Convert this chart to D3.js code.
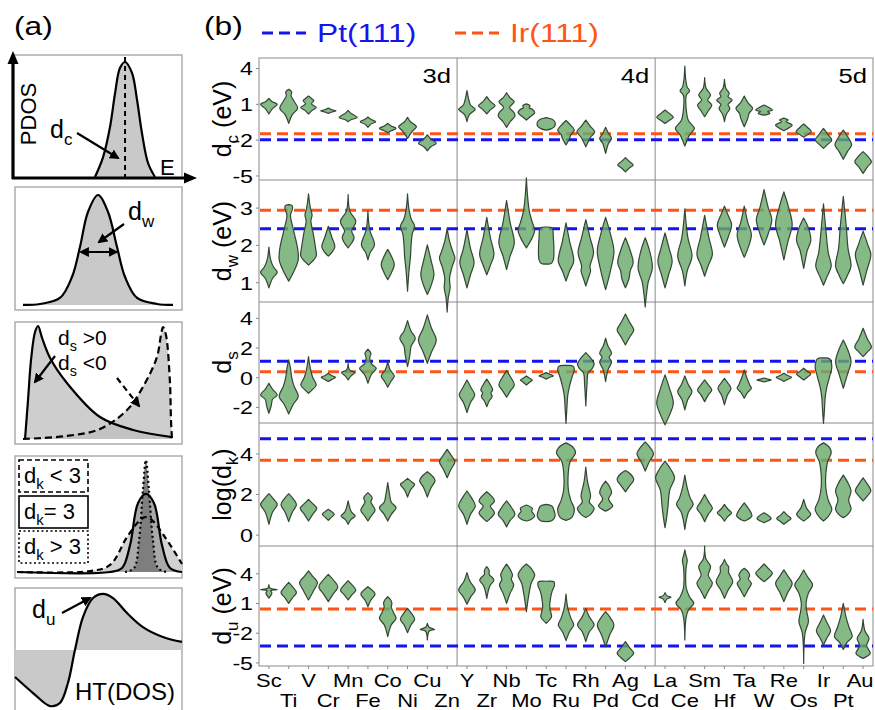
<!DOCTYPE html>
<html>
<head>
<meta charset="utf-8">
<script src="https://cdn.jsdelivr.net/npm/d3@7"></script>
<style>
  body { margin: 0; background: #fff; }
  svg text { font-family: "Liberation Sans", Arial, sans-serif; fill: #000; }
</style>
</head>
<body>
<div id="chart"></div>
<script>
'use strict';

// ── Categories ────────────────────────────────────────
var elements = ['Sc','Ti','V','Cr','Mn','Fe','Co','Ni','Cu','Zn',
                'Y','Zr','Nb','Mo','Tc','Ru','Rh','Pd','Ag','Cd',
                'La','Ce','Sm','Hf','Ta','W','Re','Os','Ir','Pt','Au'];
var blockNames = ['3d', '4d', '5d'];
var blockFirst = ['Sc', 'Y', 'La'];

// ── Rows: descriptor name, y domain, ticks, reference surfaces ──
var rowTitles = [
  [['d', 0], ['c', 1], [' (eV)', 0]],
  [['d', 0], ['w', 1], [' (eV)', 0]],
  [['d', 0], ['s', 1]],
  [['log(d', 0], ['k', 1], [')', 0]],
  [['d', 0], ['u', 1], [' (eV)', 0]]
];
var rowDomains = [[-5.38, 4.84], [0.47, 3.74], [-3.08, 5.07], [-0.56, 5.5], [-5.36, 6.76]];
var rowTicks = [[4, 1, -2, -5], [3, 2, 1], [4, 2, 0, -2], [4, 2, 0], [4, 1, -2, -5]];
var ptLevels = [-2.0, 2.43, 1.08, 4.73, -3.34];   // Pt(111)
var irLevels = [-1.5, 2.93, 0.38, 3.67, 0.4];     // Ir(111)

// ── Violin profiles: [value, half-width density] from top to bottom ──
var dcViolins = {
  Sc: [[1.46,0],[1.2,2.5],[0.96,7],[0.6,3],[0.15,0]],
  Ti: [[2.21,0],[2.0,2.5],[1.7,2],[1.3,4],[0.62,7.5],[0.1,3],[-0.64,0]],
  V:  [[1.65,0],[1.4,3],[1.26,4.5],[1.0,2.5],[0.7,6.5],[0.45,3],[0.15,0]],
  Cr: [[0.65,0],[0.5,3],[0.42,6.5],[0.3,2.5],[0.2,0]],
  Mn: [[0.45,0],[0.2,2.5],[-0.13,7.5],[-0.35,2],[-0.5,0]],
  Fe: [[-0.1,0],[-0.3,2.5],[-0.5,6.5],[-0.7,2.5],[-0.97,0]],
  Co: [[-0.64,0],[-0.85,3],[-1.06,7],[-1.25,3],[-1.42,0]],
  Ni: [[-0.13,0],[-0.5,2.5],[-0.75,6],[-0.92,7.5],[-1.3,4],[-1.9,0]],
  Cu: [[-1.6,0],[-1.95,3],[-2.3,7.5],[-2.6,3],[-2.93,0]],
  Y:  [[2.1,0],[1.5,1.2],[0.9,3],[0.54,7],[0.1,2],[-0.5,0]],
  Zr: [[1.6,0],[1.2,3],[0.84,7],[0.5,3],[0.15,0]],
  Nb: [[1.93,0],[1.5,3],[1.18,6.5],[0.7,2.5],[0.3,6],[-0.02,7],[-0.5,3],[-0.97,0]],
  Mo: [[1.0,0],[0.85,3],[0.65,2.5],[0.55,5],[0.26,7],[-0.1,3],[-0.36,0]],
  Tc: [[-0.15,0],[-0.3,5],[-0.55,7.5],[-0.9,7],[-1.1,4],[-1.2,0]],
  Ru: [[-0.4,0],[-0.8,4],[-1.2,7],[-1.6,4],[-1.9,3],[-2.45,0]],
  Rh: [[-0.36,0],[-0.9,4],[-1.34,7.5],[-1.8,4],[-2.6,0]],
  Pd: [[-0.97,0],[-1.5,2.5],[-1.9,5],[-2.3,2.5],[-3.15,0]],
  Ag: [[-3.5,0],[-3.8,3],[-4.13,6.5],[-4.4,3],[-4.7,0]],
  La: [[0.48,0],[0.2,3.5],[-0.13,7],[-0.4,3.5],[-0.64,0]],
  Ce: [[4.17,0],[3.0,0.8],[2.4,2],[2.1,4],[1.7,1.2],[0.5,1.2],[-0.4,3],[-1.06,8],[-1.6,4],[-2.54,0]],
  Sm: [[3.2,0],[2.3,1.2],[1.74,5],[1.32,2.5],[0.9,6],[0.4,3],[-0.08,0]],
  Hf: [[3.05,0],[2.3,1.2],[1.88,4],[1.6,3],[1.32,6.5],[0.95,3],[0.62,4.5],[0.1,1.5],[-0.5,0]],
  Ta: [[1.65,0],[1.1,3],[0.62,7],[0.2,4],[-0.2,3],[-0.92,0]],
  W:  [[0.9,0],[0.75,3],[0.48,7],[0.35,3],[0.2,5],[0.05,0]],
  Re: [[-0.2,0],[-0.36,3.5],[-0.5,2],[-0.78,7],[-1.25,0]],
  Os: [[-0.69,0],[-1.0,3.5],[-1.34,6.5],[-1.6,3],[-1.8,0]],
  Ir: [[-1.06,0],[-1.6,4],[-2.03,7],[-2.4,3.5],[-2.73,0]],
  Pt: [[-1.2,0],[-1.8,4],[-2.45,7],[-3.0,3.5],[-3.65,0]],
  Au: [[-3.0,0],[-3.4,4],[-3.85,7],[-4.3,3.5],[-4.83,0]]
};
var dwViolins = {
  Sc: [[1.94,0],[1.6,1.5],[1.4,4],[1.27,7],[1.1,3],[0.85,0]],
  Ti: [[3.08,0],[3.05,3],[2.95,3],[2.8,1.5],[2.4,4],[1.9,7.5],[1.6,8],[1.3,4.5],[1.03,0]],
  V:  [[3.37,0],[3.0,1.5],[2.8,3],[2.65,2],[2.3,4],[1.9,6],[1.7,6.5],[1.55,3],[1.46,0]],
  Cr: [[2.5,0],[2.2,3],[1.95,5.5],[1.8,3],[1.7,0]],
  Mn: [[3.35,0],[2.9,1.5],[2.63,6.5],[2.37,3],[2.19,5],[1.92,0]],
  Fe: [[2.9,0],[2.4,1.5],[2.0,5.5],[1.8,2],[1.6,0]],
  Co: [[1.88,0],[1.7,3],[1.47,5.5],[1.25,3],[1.07,0]],
  Ni: [[3.37,0],[3.0,1],[2.7,3],[2.5,6],[2.3,4],[2.0,3],[1.7,2.5],[1.3,1.2],[0.76,0]],
  Cu: [[2.0,0],[1.6,3],[1.2,5.5],[0.9,3],[0.67,0]],
  Zn: [[2.45,0],[2.1,2],[1.8,5],[1.65,6.5],[1.4,4],[1.1,2],[0.85,2.5],[0.6,1],[0.2,0]],
  Y:  [[2.41,0],[1.9,3],[1.52,6],[1.2,3],[0.85,0]],
  Zr: [[2.74,0],[2.2,3],[1.74,6],[1.45,3],[1.2,0]],
  Nb: [[3.19,0],[2.6,3],[2.05,6.5],[1.7,3],[1.34,0]],
  Mo: [[3.8,0],[3.3,1],[2.9,2.5],[2.6,5],[2.4,7],[2.2,5],[1.92,0]],
  Tc: [[2.48,0],[2.45,5],[2.2,6],[1.9,6.5],[1.6,6],[1.5,4],[1.49,0]],
  Ru: [[2.59,0],[2.1,3],[1.56,6.5],[1.3,3],[1.03,0]],
  Rh: [[2.68,0],[2.2,3.5],[1.79,6.5],[1.43,3.5],[1.3,4],[1.1,2],[0.9,0]],
  Pd: [[2.74,0],[2.3,4],[1.83,7],[1.3,4],[0.8,0]],
  Ag: [[2.19,0],[1.85,4],[1.52,6.5],[1.3,4],[1.1,3],[0.85,0]],
  Cd: [[2.19,0],[1.8,4],[1.38,6],[1.0,2.5],[0.71,1.2],[0.34,0]],
  La: [[2.32,0],[1.9,3.5],[1.56,6],[1.2,3],[0.85,0]],
  Ce: [[2.97,0],[2.2,2.5],[1.7,6],[1.3,2],[0.9,0]],
  Sm: [[2.79,0],[2.2,3.5],[1.74,6.5],[1.45,3],[1.16,0]],
  Hf: [[3.04,0],[2.8,3],[2.54,6],[2.2,3],[1.94,0]],
  Ta: [[3.04,0],[2.6,3],[2.28,6],[1.9,3],[1.67,0]],
  W:  [[3.48,0],[3.0,3.5],[2.68,6.5],[2.3,3.5],[2.0,0]],
  Re: [[3.42,0],[3.0,4],[2.54,7],[2.1,3.5],[1.6,0]],
  Os: [[2.72,0],[2.45,4],[2.12,6],[1.85,3],[1.7,2],[1.37,0]],
  Ir: [[3.1,0],[2.4,2],[1.8,4],[1.43,6.5],[1.15,3],[0.92,0]],
  Pt: [[3.3,0],[2.5,2.5],[1.9,4],[1.43,6.5],[1.15,3],[0.96,0]],
  Au: [[2.37,0],[2.0,4],[1.74,6.5],[1.3,3],[0.92,0]]
};
var dsViolins = {
  Sc: [[-0.4,0],[-0.8,3],[-1.19,7],[-1.5,3],[-1.9,2],[-2.42,0]],
  Ti: [[1.17,0],[0.6,1.5],[0,2.5],[-0.6,4.5],[-1.3,8],[-1.8,4],[-2.47,0]],
  V:  [[1.39,0],[0.6,1.5],[0,3.5],[-0.52,6.5],[-0.85,3],[-1.08,0]],
  Cr: [[0.27,0],[0.1,3],[0,6],[-0.15,3],[-0.29,0]],
  Mn: [[0.94,0],[0.5,1.2],[0.31,5.5],[0.1,2.5],[-0.18,0]],
  Fe: [[1.89,0],[1.62,2.5],[1.3,1.5],[0.9,3],[0.61,7],[0.2,3],[-0.4,0]],
  Co: [[1.05,0],[0.5,2],[0.09,5.5],[-0.3,2.5],[-0.67,0]],
  Ni: [[3.82,0],[3.1,3],[2.63,6.5],[2.1,3],[1.5,2],[0.72,0]],
  Cu: [[4.2,0],[3.3,3.5],[2.51,7.5],[1.7,3.5],[0.94,0]],
  Y:  [[-0.18,0],[-0.7,3.5],[-1.19,6.5],[-1.7,3],[-2.38,0]],
  Zr: [[-0.13,0],[-0.5,3],[-0.85,5],[-1.05,3.5],[-1.3,4.5],[-1.6,2],[-1.98,0]],
  Nb: [[0.45,0],[0,3.5],[-0.52,6.5],[-0.95,3],[-1.35,0]],
  Mo: [[0.09,0],[-0.05,2.5],[-0.18,5],[-0.35,2.5],[-0.52,0]],
  Tc: [[0.31,0],[0.2,3],[0.09,6],[0,3],[-0.13,0]],
  Ru: [[0.8,0],[0.75,6],[0.5,7],[0,5],[-0.6,3],[-1.2,1.5],[-2,0.8],[-3.1,0]],
  Rh: [[1.66,0],[1.3,4],[0.9,7],[0.6,5.5],[0.3,2],[-0.5,1],[-1.93,0]],
  Pd: [[2.63,0],[2.1,2],[1.62,5],[1.35,3],[1.05,5],[0.5,2],[-0.29,0]],
  Ag: [[4.26,0],[3.7,3.5],[3.19,7],[2.7,3.5],[2.18,0]],
  La: [[0.16,0],[-0.8,4],[-1.75,7],[-2.5,4],[-3.2,0]],
  Ce: [[0.09,0],[-0.5,3],[-0.97,6],[-1.5,2.5],[-2.2,0]],
  Sm: [[-0.18,0],[-0.5,3],[-0.85,6],[-1.2,3],[-1.64,0]],
  Hf: [[-0.07,0],[-0.4,3],[-0.74,5.5],[-1.2,2.5],[-1.86,0]],
  Ta: [[0.49,0],[0,2],[-0.5,4.5],[-0.74,6],[-1.0,3],[-1.41,0]],
  W:  [[-0.05,0],[-0.12,3],[-0.18,6],[-0.25,3],[-0.32,0]],
  Re: [[0.27,0],[0.12,3],[0,6.5],[-0.15,3],[-0.29,0]],
  Os: [[0.61,0],[0.4,3],[0.22,6],[0,3],[-0.18,0]],
  Ir: [[1.3,0],[1.25,5],[0.72,7],[0,5],[-0.6,3],[-1.3,1.5],[-2.2,0.8],[-3.1,0]],
  Pt: [[2.51,0],[1.8,4],[1.05,6.5],[0.2,3.5],[-0.74,0]],
  Au: [[3.3,0],[2.6,3.5],[2.02,7],[1.7,3.5],[1.39,0]]
};
var dkViolins = {
  Sc: [[2.02,0],[1.75,4],[1.49,7],[1.1,3],[0.51,0]],
  Ti: [[2.02,0],[1.75,4],[1.49,6.5],[1.1,3],[0.64,0]],
  V:  [[1.74,0],[1.5,4],[1.3,7],[1.0,3.5],[0.67,0]],
  Cr: [[1.25,0],[1.12,3],[1.0,5],[0.85,2.5],[0.7,0]],
  Mn: [[1.66,0],[1.3,1.5],[1.1,3],[0.92,6],[0.75,2.5],[0.51,0]],
  Fe: [[2.07,0],[1.82,3.5],[1.6,2.5],[1.2,6],[0.9,2.5],[0.67,0]],
  Co: [[2.56,0],[2.0,1.5],[1.6,3],[1.33,7],[1.0,3],[0.67,0]],
  Ni: [[2.77,0],[2.6,3.5],[2.48,6],[2.2,2.5],[1.85,0]],
  Cu: [[3.1,0],[2.9,4],[2.67,6.5],[2.3,3],[1.85,0]],
  Zn: [[4.2,0],[3.9,3.5],[3.59,6.5],[3.2,3],[2.8,0]],
  Y:  [[2.15,0],[1.8,4],[1.41,7],[1.0,3],[0.51,0]],
  Zr: [[2.11,0],[1.66,6.5],[1.4,3],[1.08,6.5],[0.8,3],[0.64,0]],
  Nb: [[1.66,0],[1.35,4],[1.0,7],[0.7,3],[0.38,0]],
  Mo: [[1.46,0],[1.3,5],[1.15,4.5],[0.92,7],[0.75,4],[0.67,0]],
  Tc: [[1.49,0],[1.4,5],[1.2,6.5],[0.92,7.5],[0.7,5],[0.64,0]],
  Ru: [[4.52,0],[4.3,6],[4.03,8],[3.6,3.5],[3.1,2],[2.2,2],[1.7,4],[1.25,7],[0.85,5],[0.7,0]],
  Rh: [[3.33,0],[2.6,1.5],[1.9,4],[1.6,3],[1.3,7],[1.0,4],[0.84,0]],
  Pd: [[2.64,0],[2.4,3],[2.07,5],[1.75,2.5],[1.41,6],[1.25,3],[1.16,0]],
  Ag: [[3.16,0],[3.0,4],[2.72,7],[2.4,3.5],[2.11,0]],
  Cd: [[4.57,0],[4.3,4],[3.98,7],[3.6,3.5],[3.13,0]],
  La: [[3.62,0],[3.2,5],[2.8,8],[2.2,4],[1.4,2.5],[0.9,1.5],[0.34,0]],
  Ce: [[2.93,0],[2.3,2],[1.8,4.5],[1.49,7],[1.1,3],[0.26,0]],
  Sm: [[1.98,0],[1.6,3.5],[1.3,6.5],[1.0,3],[0.64,0]],
  Hf: [[1.49,0],[1.25,3],[1.08,6],[0.9,3],[0.67,0]],
  Ta: [[1.57,0],[1.25,4],[0.92,6.5],[0.75,3],[0.67,0]],
  W:  [[1.08,0],[0.95,3.5],[0.8,6],[0.68,3.5],[0.59,0]],
  Re: [[1.13,0],[0.95,3],[0.8,6],[0.65,3],[0.51,0]],
  Os: [[1.74,0],[1.3,2.5],[1.0,6],[0.8,3],[0.67,0]],
  Ir: [[4.52,0],[4.3,5],[4.03,6.5],[3.6,3.5],[3.0,2],[2.3,2],[1.7,4],[1.25,7],[0.9,4],[0.67,0]],
  Pt: [[2.93,0],[2.6,3.5],[2.15,6.5],[1.7,4.5],[1.25,6.5],[0.95,3],[0.84,0]],
  Au: [[2.8,0],[2.5,3.5],[2.15,6.5],[1.9,3.5],[1.66,0]]
};
var duViolins = {
  Sc: [[2.85,0],[2.5,1],[2.35,7],[2.25,1.5],[2.0,2.5],[1.5,0]],
  Ti: [[3.09,0],[2.6,3.5],[2.05,6.5],[1.5,3],[0.97,0]],
  V:  [[4.24,0],[3.7,3.5],[3.09,7.5],[2.2,4],[1.31,0]],
  Cr: [[3.9,0],[3.3,4.5],[2.65,8],[1.9,4],[1.14,0]],
  Mn: [[3.26,0],[2.8,3.5],[2.32,6.5],[1.8,3],[1.31,0]],
  Fe: [[2.65,0],[2.3,3.5],[1.91,6],[1.3,2.5],[0.63,0]],
  Co: [[1.64,0],[1.3,2.5],[0.97,3.5],[0.6,3],[0,5],[-0.55,7],[-1.2,3],[-2.4,0]],
  Ni: [[0.46,0],[0,3],[-0.65,6],[-1.2,3],[-2.0,0]],
  Cu: [[-1.05,0],[-1.45,1.5],[-1.66,6],[-1.85,1.5],[-2.73,0]],
  Y:  [[4.07,0],[3.2,2.5],[2.32,7],[1.6,3],[0.87,0]],
  Zr: [[4.67,0],[4.3,2],[3.9,2],[3.33,6],[2.7,2.5],[1.47,0]],
  Nb: [[4.94,0],[4.4,3],[3.83,5],[3.4,4],[2.82,6],[2.0,3],[0.97,0]],
  Mo: [[4.94,0],[4.5,4],[3.83,7],[3.0,4],[1.8,2],[0.13,0]],
  Tc: [[3.2,0],[3.15,6.5],[2.8,7],[2.2,5],[1.4,3.5],[0.6,3],[0,4],[-0.4,4.5],[-1.05,0]],
  Ru: [[1.91,0],[0.5,1.5],[-0.5,4],[-1.22,6.5],[-1.9,3],[-2.8,0]],
  Rh: [[0.46,0],[-0.4,3],[-1.22,7],[-1.9,3],[-2.9,0]],
  Pd: [[0.13,0],[-0.5,4],[-1.22,7],[-2.2,3.5],[-3.41,0]],
  Ag: [[-2.9,0],[-3.5,3.5],[-4.08,7],[-4.5,4],[-4.92,0]],
  La: [[2.05,0],[1.75,1.5],[1.58,5],[1.4,1.5],[1.04,0]],
  Ce: [[6.36,0],[5.8,1],[5.35,2],[4.5,1],[2.5,1.2],[1.6,4],[0.97,7.5],[0.3,3],[-0.5,1],[-2.73,0]],
  Sm: [[6.76,0],[5.5,1],[4.67,5],[3.8,3],[2.99,6.5],[2.2,3],[1.47,0]],
  Hf: [[5.41,0],[4.9,2],[4.67,3.5],[4.1,3.5],[3.16,7],[2.3,3],[1.47,0]],
  Ta: [[4.51,0],[4.2,3],[3.83,4.5],[3.4,3.5],[2.99,6],[2.3,3],[1.64,0]],
  W:  [[4.94,0],[4.5,3.5],[4.0,7],[3.5,3.5],[3.16,0]],
  Re: [[4.34,0],[3.7,3.5],[2.99,7],[2.0,3],[1.14,0]],
  Os: [[4.34,0],[3.6,3.5],[2.82,7.5],[2.0,4],[1.0,2],[0.2,2.5],[-0.88,4],[-2.0,1.2],[-5.1,0]],
  Ir: [[-0.21,0],[-1.0,3],[-1.79,6],[-2.5,3],[-3.24,0]],
  Pt: [[0.97,0],[-0.5,2.5],[-1.5,5],[-2.4,7.5],[-3.0,3],[-3.69,0]],
  Au: [[-0.65,0],[-1.8,1.5],[-2.57,5],[-3.3,3],[-4.08,6],[-4.4,3],[-4.59,0]]
};
var rowViolins = [dcViolins, dwViolins, dsViolins, dkViolins, duViolins];

// ── Panel (a) schematic curves, in box percent [x%, y%] ──
var pdosPeak = [[48.5,0.8],[53.3,17],[57.4,41.5],[60.4,69],[63.3,89.4],[66.3,94.3],[70.4,85.4],[73.4,63.4],[76.3,36.6],[79.9,12.2],[84,0.8]];
var widthPeak = [[4.8,4.1],[15,4.9],[26.9,9.8],[34.1,26.8],[38.9,51.2],[43.7,79.7],[49.7,93.5],[55.7,79.7],[61.1,51.2],[65.9,26.8],[73.1,9.8],[85,4.9],[94.6,4.1]];
var skewPos = [[6,4.1],[7.8,36],[9.6,68.9],[12,91.8],[13.8,96.7],[16.2,86.9],[21,70.5],[31.1,50],[50.9,22.1],[70.7,11.5],[94,5.7]];
var skewNeg = [[4.8,4.1],[31.1,6.6],[50.9,12.3],[67.1,27.9],[76.6,46.7],[85,71.3],[87.4,89.3],[88.6,95.9],[90.4,89.3],[92.8,50],[93.4,19.7],[94,4.1]];
var kurtLow = [[1.2,4.9],[44.9,5.7],[56.9,10.7],[67.1,33.6],[74.9,47.5],[78.4,50],[82,47.5],[89.8,33.6],[100,11.5]];
var kurtMid = [[1.2,4.9],[56.9,4.9],[64.1,8.2],[68.9,27],[73.7,61.5],[78.4,68.9],[83.2,61.5],[88,27],[92.8,8.2],[100,4.9]];
var kurtHigh = [[65.9,4.9],[71.3,8.2],[74.3,31.1],[76.6,72.1],[78.4,96.7],[80.2,72.1],[82.6,31.1],[85.6,8.2],[91,4.9]];
var hilbertCurve = [[0,28.2],[10.8,15.3],[21,4.8],[26.9,7.3],[31.7,23.4],[35.9,50],[40.7,76.6],[46.7,91.9],[52.7,95.2],[58.7,91.9],[67.1,79.8],[76.6,68.5],[88.6,60.5],[100,56.5]];

// ── Styles ────────────────────────────────────────────
var BLUE = '#1414f0';
var ORANGE = '#ff5417';
var VIOLIN_FILL = '#6aa96a';
var VIOLIN_STROKE = '#364536';
var GRID = '#8a8a8a';
var FONT = '"Liberation Sans", Arial, sans-serif';
var SX = 1.22; // labels in panel (b) are drawn wide

var W = 875, H = 710;
var svg = d3.select('#chart').append('svg').attr('width', W).attr('height', H);

var defs = svg.append('defs');
defs.append('marker')
  .attr('id', 'arrow')
  .attr('viewBox', '0 0 10 10')
  .attr('refX', 8).attr('refY', 5)
  .attr('markerWidth', 10).attr('markerHeight', 10)
  .attr('markerUnits', 'userSpaceOnUse')
  .attr('orient', 'auto-start-reverse')
  .append('path').attr('d', 'M0,0 L10,5 L0,10 z').attr('fill', '#000');

// text with subscripts: parts = [[string, isSub], ...]
function richText(parent, parts, size) {
  var t = parent.append('text').attr('font-size', size);
  var shift = 0;
  parts.forEach(function (p) {
    var ts = t.append('tspan').text(p[0]);
    if (p[1]) {
      ts.attr('font-size', size * 0.68).attr('dy', size * 0.28 - shift);
      shift = size * 0.28;
    } else if (shift) {
      ts.attr('dy', -shift);
      shift = 0;
    }
  });
  return t;
}

// ══════════════ Panel (b) ══════════════
var plotLeft = 259, plotRight = 873;
var rowEdges = [58, 180, 302, 423, 546, 666];

var x = d3.scaleBand().domain(elements).range([plotLeft, plotRight]);
var rowScales = rowDomains.map(function (dom, i) {
  return d3.scaleLinear().domain(dom).range([rowEdges[i + 1], rowEdges[i]]);
});
var wScale = d3.scaleLinear().domain([0, 8]).range([0, x.bandwidth() * 0.48]);

var pb = svg.append('g').attr('class', 'panel-b');

// Frame and grid
pb.append('rect')
  .attr('x', plotLeft).attr('y', rowEdges[0])
  .attr('width', plotRight - plotLeft).attr('height', rowEdges[5] - rowEdges[0])
  .attr('fill', 'none').attr('stroke', GRID).attr('stroke-width', 1);
pb.selectAll('line.row-sep')
  .data(rowEdges.slice(1, 5))
  .join('line').attr('class', 'row-sep')
  .attr('x1', plotLeft).attr('x2', plotRight)
  .attr('y1', function (d) { return d; }).attr('y2', function (d) { return d; })
  .attr('stroke', GRID).attr('stroke-width', 1);
pb.selectAll('line.col-sep')
  .data(blockFirst.slice(1))
  .join('line').attr('class', 'col-sep')
  .attr('x1', function (d) { return x(d); }).attr('x2', function (d) { return x(d); })
  .attr('y1', rowEdges[0]).attr('y2', rowEdges[5])
  .attr('stroke', GRID).attr('stroke-width', 1);

// Reference surfaces
[[ptLevels, BLUE], [irLevels, ORANGE]].forEach(function (ref) {
  pb.append('g').selectAll('line')
    .data(ref[0])
    .join('line')
    .attr('x1', plotLeft + 1).attr('x2', plotRight)
    .attr('y1', function (d, i) { return rowScales[i](d); })
    .attr('y2', function (d, i) { return rowScales[i](d); })
    .attr('stroke', ref[1]).attr('stroke-width', 3)
    .attr('stroke-dasharray', '11,6');
});

// Violins
rowViolins.forEach(function (rowData, i) {
  var y = rowScales[i];
  var g = pb.append('g').attr('class', 'violins');
  Object.keys(rowData).forEach(function (el) {
    var cx = x(el) + x.bandwidth() / 2;
    var area = d3.area()
      .curve(d3.curveCatmullRom.alpha(0.5))
      .y(function (d) { return y(d[0]); })
      .x0(function (d) { return cx - wScale(d[1]); })
      .x1(function (d) { return cx + wScale(d[1]); });
    g.append('path')
      .attr('d', area(rowData[el]))
      .attr('fill', VIOLIN_FILL).attr('fill-opacity', 0.82)
      .attr('stroke', VIOLIN_STROKE).attr('stroke-width', 1.2)
      .attr('stroke-linejoin', 'round');
  });
});

// Block labels
blockNames.forEach(function (name, k) {
  var right = k < 2 ? x(blockFirst[k + 1]) : plotRight;
  pb.append('text')
    .attr('transform', 'translate(' + (right - 6) + ',83) scale(' + SX + ',1)')
    .attr('text-anchor', 'end').attr('font-size', 21)
    .text(name);
});

// Y axes and titles
rowScales.forEach(function (y, i) {
  var ax = pb.append('g')
    .attr('transform', 'translate(' + plotLeft + ',0)')
    .call(d3.axisLeft(y).tickValues(rowTicks[i]).tickSize(3).tickSizeOuter(0)
      .tickFormat(function (d) { return String(d); }));
  ax.select('.domain').remove();
  ax.selectAll('line').attr('stroke', GRID);
  ax.selectAll('text')
    .attr('x', 0).attr('dy', '0.36em')
    .attr('transform', 'translate(-6,0) scale(' + SX + ',1)')
    .attr('font-size', 19).attr('font-family', FONT);

  var mid = (rowEdges[i] + rowEdges[i + 1]) / 2;
  richText(pb, rowTitles[i], 25)
    .attr('text-anchor', 'middle')
    .attr('transform', 'translate(231,' + mid + ') rotate(-90)');
});

// X axis with staggered element labels
var xAxis = pb.append('g')
  .attr('transform', 'translate(0,' + rowEdges[5] + ')')
  .call(d3.axisBottom(x).tickSize(3).tickSizeOuter(0));
xAxis.select('.domain').remove();
xAxis.selectAll('line').attr('stroke', GRID);
xAxis.selectAll('text')
  .attr('dy', null).attr('y', 0)
  .attr('transform', function (d, i) {
    // keep the last label inside the page edge
    var dx = i === elements.length - 1 ? -3 : 0;
    return 'translate(' + dx + ',' + (i % 2 ? 41 : 21) + ') scale(' + SX + ',1)';
  })
  .attr('font-size', 18).attr('font-family', FONT);

// Legend
var legendItems = [['Pt(111)', BLUE, 262], ['Ir(111)', ORANGE, 455]];
legendItems.forEach(function (it) {
  pb.append('line')
    .attr('x1', it[2]).attr('x2', it[2] + 44).attr('y1', 33).attr('y2', 33)
    .attr('stroke', it[1]).attr('stroke-width', 3).attr('stroke-dasharray', '11,6');
  pb.append('text')
    .attr('transform', 'translate(' + (it[2] + 55) + ',42) scale(' + SX + ',1)')
    .attr('font-size', 26).style('fill', it[1])
    .text(it[0]);
});

pb.append('text')
  .attr('transform', 'translate(204,35) scale(' + SX + ',1)')
  .attr('font-size', 26).text('(b)');

// ══════════════ Panel (a) ══════════════
var pa = svg.append('g').attr('class', 'panel-a');
pa.append('text')
  .attr('transform', 'translate(14,35) scale(' + SX + ',1)')
  .attr('font-size', 26).text('(a)');

var boxes = [
  { x0: 13, x1: 182, y0: 55, y1: 178 },
  { x0: 15, x1: 182, y0: 187, y1: 310 },
  { x0: 15, x1: 182, y0: 322, y1: 444 },
  { x0: 15, x1: 182, y0: 456, y1: 578 },
  { x0: 15, x1: 182, y0: 588, y1: 712 }
];
function boxScales(b) {
  return {
    x: d3.scaleLinear().domain([0, 100]).range([b.x0, b.x1]),
    y: d3.scaleLinear().domain([0, 100]).range([b.y1, b.y0])
  };
}
boxes.forEach(function (b) {
  pa.append('rect')
    .attr('x', b.x0).attr('y', b.y0)
    .attr('width', b.x1 - b.x0).attr('height', b.y1 - b.y0)
    .attr('fill', '#fff').attr('stroke', '#a0a0a0').attr('stroke-width', 1.3);
});

function drawCurve(s, pts, base, fill, dash) {
  var area = d3.area().curve(d3.curveCatmullRom.alpha(0.5))
    .x(function (d) { return s.x(d[0]); })
    .y0(s.y(base))
    .y1(function (d) { return s.y(d[1]); });
  var line = d3.line().curve(d3.curveCatmullRom.alpha(0.5))
    .x(function (d) { return s.x(d[0]); })
    .y(function (d) { return s.y(d[1]); });
  if (fill) pa.append('path').attr('d', area(pts)).attr('fill', fill).attr('stroke', 'none');
  return function () {
    return pa.append('path').attr('d', line(pts)).attr('fill', 'none')
      .attr('stroke', '#000').attr('stroke-width', 2.2)
      .attr('stroke-dasharray', dash || null);
  };
}
function arrow(x1, y1, x2, y2, dash, both) {
  var l = pa.append('line')
    .attr('x1', x1).attr('y1', y1).attr('x2', x2).attr('y2', y2)
    .attr('stroke', '#000').attr('stroke-width', 2.2)
    .attr('stroke-dasharray', dash || null)
    .attr('marker-end', 'url(#arrow)');
  if (both) l.attr('marker-start', 'url(#arrow)');
}

// Box 1: d-band center
var s1 = boxScales(boxes[0]);
drawCurve(s1, pdosPeak, 0.8, '#c9c9c9')();
pa.append('line')
  .attr('x1', s1.x(66.3)).attr('x2', s1.x(66.3)).attr('y1', 57).attr('y2', 177)
  .attr('stroke', '#000').attr('stroke-width', 2).attr('stroke-dasharray', '5,4');
pa.append('line').attr('x1', 13).attr('y1', 179).attr('x2', 13).attr('y2', 62)
  .attr('stroke', '#000').attr('stroke-width', 3.2);
pa.append('path').attr('d', 'M13,51 L7.5,64 L18.5,64 Z').attr('fill', '#000');
pa.append('line').attr('x1', 12).attr('y1', 178).attr('x2', 186).attr('y2', 178)
  .attr('stroke', '#000').attr('stroke-width', 3.2);
pa.append('path').attr('d', 'M197,178 L184,172.5 L184,183.5 Z').attr('fill', '#000');
pa.append('text').attr('transform', 'translate(36,114) rotate(-90)')
  .attr('text-anchor', 'middle').attr('font-size', 22).text('PDOS');
richText(pa, [['d', 0], ['c', 1]], 25).attr('x', 50).attr('y', 138);
arrow(77, 133, 118, 158);
pa.append('text').attr('x', 160).attr('y', 175).attr('font-size', 22).text('E');

// Box 2: d-band width
var s2 = boxScales(boxes[1]);
drawCurve(s2, widthPeak, 4.1, '#c9c9c9')();
richText(pa, [['d', 0], ['w', 1]], 25).attr('x', 128).attr('y', 220);
arrow(124, 224, 99, 242);
arrow(s2.x(39.5), 252, s2.x(60.8), 252, null, true);

// Box 3: skewness
var s3 = boxScales(boxes[2]);
var negLine = drawCurve(s3, skewNeg, 4.1, 'rgba(190,190,190,0.75)', '7,4');
var posLine = drawCurve(s3, skewPos, 4.1, 'rgba(190,190,190,0.75)');
negLine(); posLine();
richText(pa, [['d', 0], ['s', 1], [' >0', 0]], 21).attr('x', 58).attr('y', 345);
richText(pa, [['d', 0], ['s', 1], [' <0', 0]], 21).attr('x', 58).attr('y', 370);
arrow(55, 356, 35, 382);
arrow(117, 378, 139, 406, '6,4');

// Box 4: kurtosis
var s4 = boxScales(boxes[3]);
var kLow = drawCurve(s4, kurtLow, 4.9, '#d2d2d2', '6,4');
var kMid = drawCurve(s4, kurtMid, 4.9, '#a9a9a9');
var kHigh = drawCurve(s4, kurtHigh, 4.9, '#7e7e7e', '2,3');
kLow(); kHigh(); kMid();
var kLegend = [['< 3', '5,3', 460], ['= 3', null, 496], ['> 3', '2,2.5', 531]];
kLegend.forEach(function (k) {
  pa.append('rect').attr('x', 19).attr('y', k[2]).attr('width', 69).attr('height', 32)
    .attr('fill', 'none').attr('stroke', '#000').attr('stroke-width', 1.6)
    .attr('stroke-dasharray', k[1]);
  richText(pa, [['d', 0], ['k', 1], [k[0] === '= 3' ? k[0] : ' ' + k[0], 0]], 22)
    .attr('x', 24).attr('y', k[2] + 23);
});

// Box 5: upper band edge
var s5 = boxScales(boxes[4]);
drawCurve(s5, hilbertCurve, 50, '#c9c9c9')();
richText(pa, [['d', 0], ['u', 1]], 25).attr('x', 32).attr('y', 618);
arrow(62, 613, 90, 598);
pa.append('text').attr('x', 75).attr('y', 700).attr('font-size', 24).text('HT(DOS)');
</script>
</body>
</html>
